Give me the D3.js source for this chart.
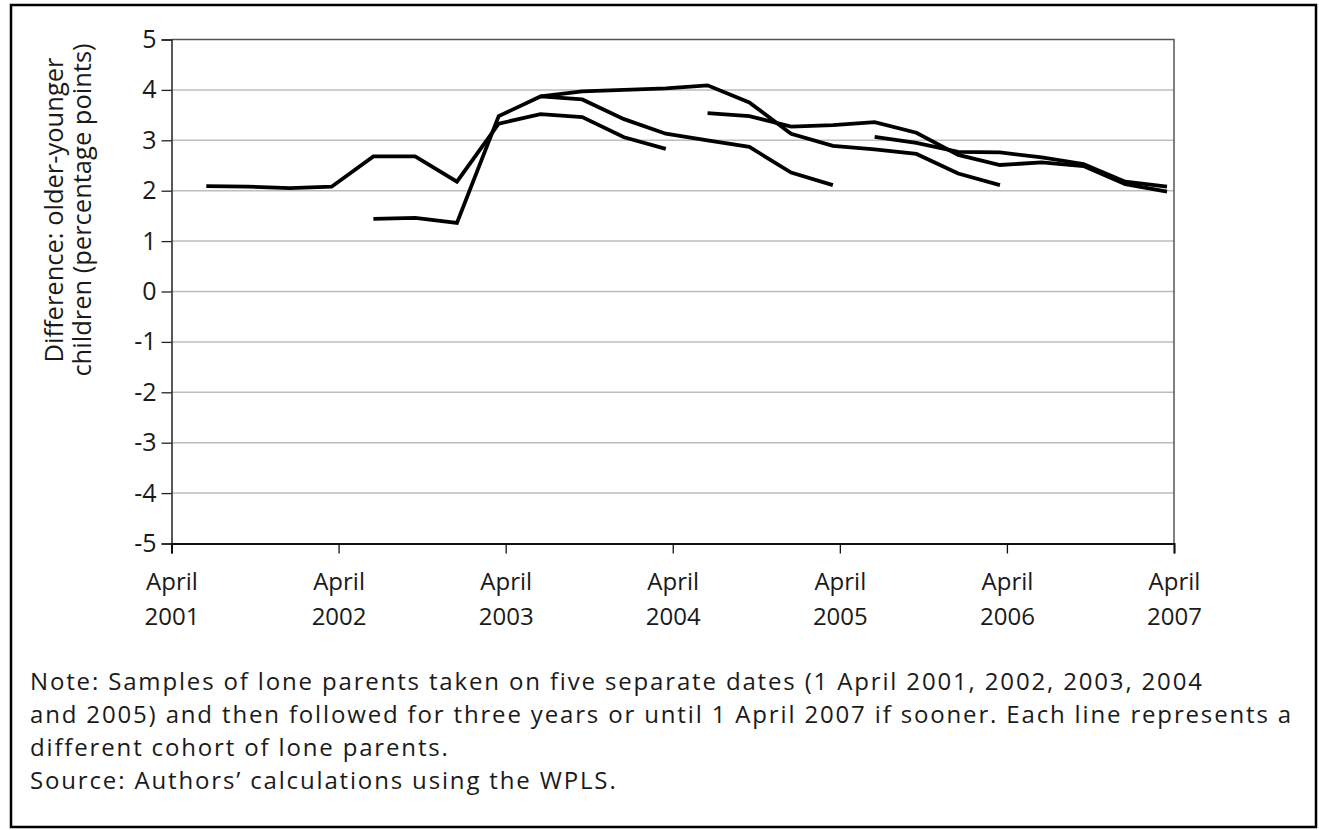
<!DOCTYPE html>
<html>
<head>
<meta charset="utf-8">
<script src="https://cdn.jsdelivr.net/npm/d3@7"></script>
<style>
  html, body { margin: 0; padding: 0; background: #fff; }
  svg { display: block; }
  text { font-family: "Open Sans", "Noto Sans", sans-serif; fill: #1a1a1a; }
</style>
</head>
<body>
<svg id="chart" width="1319" height="830"></svg>
<script>
// ---- data ----
// observation points, in months after 1 April 2001 (quarterly)
const quarterMonths = [2.5, 5.5, 8.5, 11.5, 14.5, 17.5, 20.5, 23.5, 26.5, 29.5, 32.5, 35.5,
                       38.5, 41.5, 44.5, 47.5, 50.5, 53.5, 56.5, 59.5, 62.5, 65.5, 68.5, 71.5];
const cohorts = ["April 2001", "April 2002", "April 2003", "April 2004", "April 2005"];
const cohortStart = [0, 4, 8, 12, 16]; // index of first observation in quarterMonths
const cohort2001 = [2.09, 2.08, 2.05, 2.08, 2.68, 2.68, 2.18, 3.33, 3.52, 3.46, 3.06, 2.83];
const cohort2002 = [1.44, 1.46, 1.36, 3.48, 3.87, 3.81, 3.42, 3.13, 3.00, 2.87, 2.36, 2.11];
const cohort2003 = [3.87, 3.97, 4.00, 4.03, 4.09, 3.75, 3.13, 2.89, 2.82, 2.73, 2.34, 2.11];
const cohort2004 = [3.54, 3.48, 3.27, 3.30, 3.36, 3.15, 2.71, 2.51, 2.56, 2.49, 2.13, 1.98];
const cohort2005 = [3.07, 2.95, 2.77, 2.76, 2.66, 2.53, 2.18, 2.08];
const seriesValues = [cohort2001, cohort2002, cohort2003, cohort2004, cohort2005];

const xTickMonths = [0, 12, 24, 36, 48, 60, 72];
const xTickLabels = [["April", "2001"], ["April", "2002"], ["April", "2003"], ["April", "2004"],
                     ["April", "2005"], ["April", "2006"], ["April", "2007"]];
const yTicks = [-5, -4, -3, -2, -1, 0, 1, 2, 3, 4, 5];
const yTitle = ["Difference: older-younger", "children (percentage points)"];
const noteLines = [
  "Note: Samples of lone parents taken on five separate dates (1 April 2001, 2002, 2003, 2004",
  "and 2005) and then followed for three years or until 1 April 2007 if sooner. Each line represents a",
  "different cohort of lone parents.",
  "Source: Authors\u2019 calculations using the WPLS."
];

// ---- layout ----
const FONT = '"Open Sans", "Noto Sans", sans-serif';
const svg = d3.select("#chart");
const plot = { left: 171.5, right: 1174, top: 39.5, bottom: 543.5 };

const x = d3.scaleLinear().domain([0, 72]).range([plot.left, plot.right]);
const y = d3.scaleLinear().domain([-5, 5]).range([plot.bottom, plot.top]);

// outer frame
svg.append("rect")
  .attr("x", 11).attr("y", 5).attr("width", 1305).attr("height", 822)
  .attr("fill", "none").attr("stroke", "#000").attr("stroke-width", 2.5);

// gridlines
svg.append("g")
  .selectAll("line")
  .data(yTicks.filter(d => d > -5 && d < 5))
  .join("line")
  .attr("x1", plot.left).attr("x2", plot.right)
  .attr("y1", d => y(d)).attr("y2", d => y(d))
  .attr("stroke", "#bdbdbd").attr("stroke-width", 1.5);

// plot border (top, right)
svg.append("path")
  .attr("d", `M${plot.left},${plot.top}H${plot.right}V${plot.bottom}`)
  .attr("fill", "none").attr("stroke", "#555").attr("stroke-width", 1.5);

// y axis
const yAxis = svg.append("g")
  .attr("transform", `translate(${plot.left},0)`)
  .call(d3.axisLeft(y).tickValues(yTicks).tickSize(10).tickPadding(5).tickFormat(d3.format("d")));
yAxis.select(".domain").attr("stroke", "#222").attr("stroke-width", 1.5);
yAxis.selectAll(".tick line").attr("stroke", "#222").attr("stroke-width", 1.3);
yAxis.selectAll(".tick text")
  .style("font-family", FONT)
  .style("font-size", "25px").attr("fill", "#1a1a1a")
  .text(d => d < 0 ? "-" + Math.abs(d) : d);

// x axis
const xAxis = svg.append("g")
  .attr("transform", `translate(0,${plot.bottom})`)
  .call(d3.axisBottom(x).tickValues(xTickMonths).tickSize(10).tickFormat(""));
xAxis.select(".domain").attr("stroke", "#111").attr("stroke-width", 2);
xAxis.selectAll(".tick line").attr("stroke", "#111").attr("stroke-width", 1.3);
xAxis.selectAll(".tick").each(function (d, i) {
  const t = d3.select(this).append("text")
    .attr("text-anchor", "middle")
    .style("font-family", FONT)
    .style("font-size", "24px").attr("fill", "#1a1a1a");
  t.append("tspan").attr("x", 0).attr("y", 46).text(xTickLabels[i][0]);
  t.append("tspan").attr("x", 0).attr("y", 81).text(xTickLabels[i][1]);
});

// y title
const yt = svg.append("text")
  .attr("transform", `translate(0,210) rotate(-90)`)
  .attr("text-anchor", "middle")
  .style("font-size", "24px");
yt.append("tspan").attr("x", 0).attr("y", 63).text(yTitle[0]);
yt.append("tspan").attr("x", 0).attr("y", 91).text(yTitle[1]);
{
  const n = yt.select("tspan").node();
  const wl = n.getComputedTextLength();
  yt.style("font-size", (24 * 305 / wl).toFixed(2) + "px");
}

// lines
const line = d3.line().x(d => x(d[0])).y(d => y(d[1]));
svg.append("g")
  .selectAll("path")
  .data(seriesValues.map((vals, i) => vals.map((v, j) => [quarterMonths[cohortStart[i] + j], v])))
  .join("path")
  .attr("d", line)
  .attr("fill", "none")
  .attr("stroke", "#000")
  .attr("stroke-width", 3.8)
  .attr("stroke-linejoin", "miter")
  .attr("stroke-linecap", "butt");

// notes
const note = svg.append("g");
note.selectAll("text")
  .data(noteLines)
  .join("text")
  .attr("x", 30)
  .attr("y", (d, i) => 690 + i * 33)
  .style("font-size", "24px")
  .text(d => d);
// widen letter spacing so the longest note line spans the same width as in the reference
{
  const nodes = note.selectAll("text").nodes();
  const longest = nodes[1];
  const w = longest.getComputedTextLength();
  const n = noteLines[1].length;
  const ls = (1263 - w) / n;
  note.selectAll("text").style("letter-spacing", ls.toFixed(3) + "px");
}
</script>
</body>
</html>
